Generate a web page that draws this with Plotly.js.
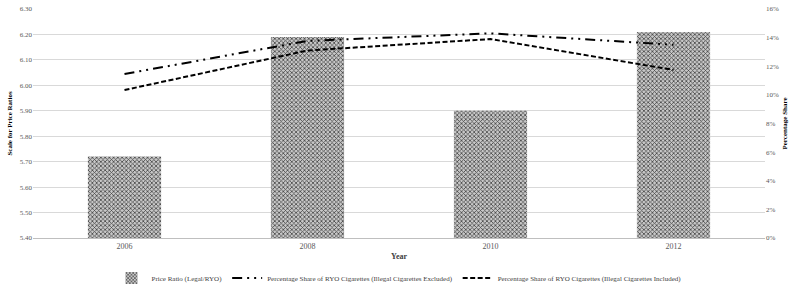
<!DOCTYPE html>
<html>
<head>
<meta charset="utf-8">
<script src="https://cdn.plot.ly/plotly-3.0.1.min.js"></script>
<style>html,body{margin:0;padding:0;background:#fff;}#chart{width:800px;height:286px;}</style>
</head>
<body>
<div id="chart"></div>
<script>
const years = ["2006", "2008", "2010", "2012"];
const priceRatio = [5.72, 6.19, 5.90, 6.21];
const shareExcluded = [0.1146, 0.1377, 0.1430, 0.1350];
const shareIncluded = [0.1034, 0.1310, 0.1390, 0.1174];

const serif = "Liberation Serif, Times New Roman, serif";

const traces = [
  {
    type: "bar", x: years, y: priceRatio, name: "Price Ratio (Legal/RYO)",
    marker: {color: "#ffffff", line: {width: 0},
      pattern: {shape: "x", fgcolor: "#444444", bgcolor: "#c8c8c8", size: 3, solidity: 0.45}},
    yaxis: "y", hoverinfo: "skip"
  },
  {
    type: "scatter", mode: "lines", x: years, y: shareExcluded,
    name: "Percentage Share of RYO Cigarettes (Illegal Cigarettes Excluded)",
    line: {color: "#000000", width: 2, dash: "10px,5px,2px,5px,2px,5px"},
    yaxis: "y2"
  },
  {
    type: "scatter", mode: "lines", x: years, y: shareIncluded,
    name: "Percentage Share of RYO Cigarettes (Illegal Cigarettes Included)",
    line: {color: "#000000", width: 2, dash: "5px,2.5px"},
    yaxis: "y2"
  }
];

const layout = {
  width: 800, height: 286,
  margin: {l: 33, r: 35, t: 9, b: 48, autoexpand: false},
  paper_bgcolor: "#ffffff", plot_bgcolor: "#ffffff",
  showlegend: true,
  bargap: 0.6,
  font: {family: serif, size: 8, color: "#595959"},
  xaxis: {
    type: "category", showgrid: false, showline: true, linecolor: "#bfbfbf", linewidth: 1,
    ticks: "", tickfont: {family: serif, size: 8, color: "#595959"},
    title: {text: "Year", font: {family: serif, size: 8, color: "#404040", weight: "bold"}, standoff: 3}
  },
  yaxis: {
    range: [5.4, 6.3], dtick: 0.1, tickformat: ".2f",
    showgrid: true, gridcolor: "#d9d9d9", gridwidth: 1, zeroline: false,
    ticks: "", tickfont: {family: serif, size: 7, color: "#595959"},
    title: {text: "Scale for Price Ratios", font: {family: serif, size: 7, color: "#000000", weight: "bold"}, standoff: 6}
  },
  yaxis2: {
    overlaying: "y", side: "right", range: [0, 0.16], dtick: 0.02, tickformat: ".0%",
    showgrid: false, zeroline: false, ticks: "",
    tickfont: {family: serif, size: 7, color: "#595959"},
    title: {text: "Percentage Share", font: {family: serif, size: 7, color: "#000000", weight: "bold"}, standoff: 4}
  },
  legend: {
    orientation: "h", x: 0.5, xanchor: "center", y: -0.175, yanchor: "middle",
    font: {family: serif, size: 7, color: "#404040"},
    itemwidth: 30, tracegroupgap: 0
  }
};

Plotly.newPlot("chart", traces, layout, {displayModeBar: false, staticPlot: true});
</script>
</body>
</html>
